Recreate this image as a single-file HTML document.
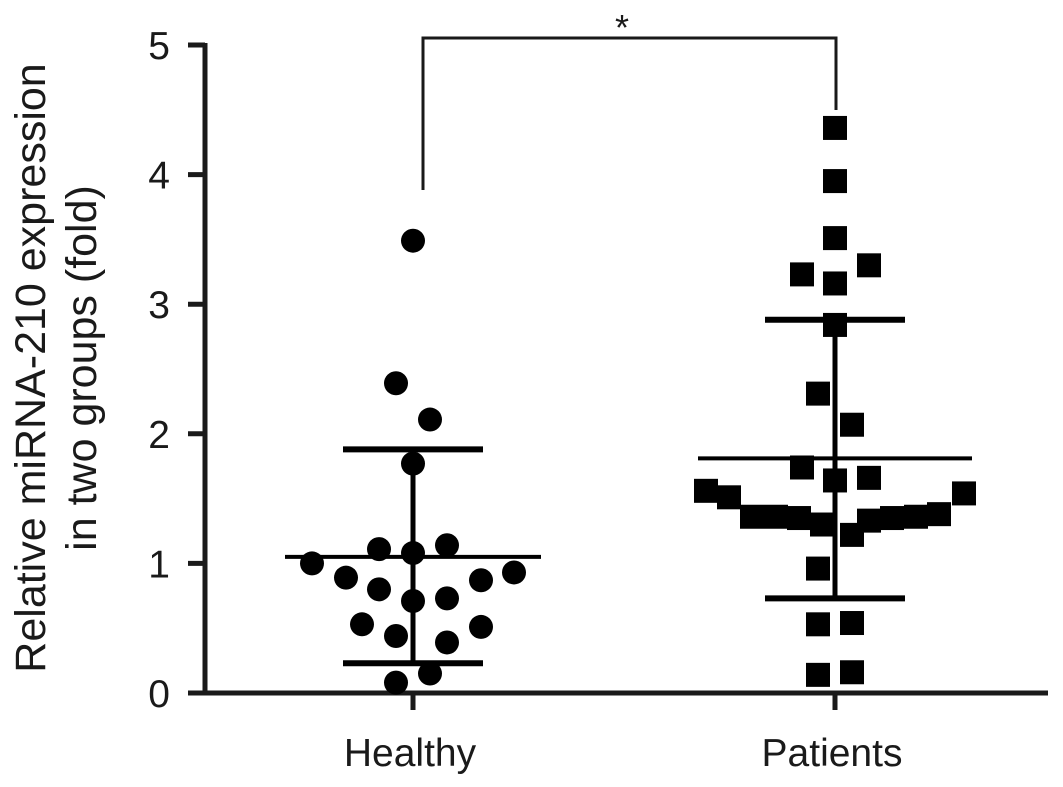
<!DOCTYPE html>
<html><head><meta charset="utf-8"><style>
body{margin:0;background:#fff}
svg{display:block}
text{font-family:"Liberation Sans",Arial,sans-serif;fill:#1a1a1a}
</style></head><body>
<svg id="chart" width="1063" height="787" viewBox="0 0 1063 787" xmlns="http://www.w3.org/2000/svg"></svg>
<script>
const categories = ["Healthy", "Patients"];
const healthyValues = [3.49,2.39,2.11,1.77,1.11,1.08,1.14,1.00,0.89,0.87,0.93,0.80,0.71,0.73,0.53,0.51,0.44,0.39,0.15,0.08];
const healthyJitter = [0,-17,17,0,-34,0,34,-101,-67,68,101,-34,0,34,-51,68,-17,34,17,-17];
const patientValues = [4.36,3.95,3.51,3.23,3.30,3.16,2.84,2.31,2.07,1.74,1.64,1.66,1.56,1.51,1.54,1.36,1.36,1.35,1.30,1.22,1.33,1.35,1.36,1.38,0.96,0.53,0.54,0.14,0.16];
const patientJitter = [0,0,0,-33,34,0,0,-17,17,-33,0,34,-129,-106,129,-83,-59,-36,-13,17,34,57,81,104,-17,-17,17,-17,17];
const means = [1.05, 1.81];
const sdUpper = [1.88, 2.88];
const sdLower = [0.23, 0.73];
const yTicks = [0,1,2,3,4,5];

const svg = document.getElementById('chart');
const NS = 'http://www.w3.org/2000/svg';
const y0 = 693, yTop = 45, yMax = 5;
const yScale = v => y0 - v/yMax*(y0-yTop);
const catX = [413, 835];
const xScale = i => catX[i];
function el(tag, attrs, parent){const e=document.createElementNS(NS,tag);for(const k in attrs)e.setAttribute(k,attrs[k]);(parent||svg).appendChild(e);return e;}

const yAxis = el('line',{x1:205,y1:43,x2:205,y2:695,stroke:'#1a1a1a','stroke-width':5});


const xAxis = el('line',{x1:203,y1:693,x2:1048,y2:693,stroke:'#1a1a1a','stroke-width':5});


yTicks.forEach(t=>{
  const y=yScale(t);
  const tk=el('line',{x1:188,y1:y,x2:205,y2:y,stroke:'#1a1a1a','stroke-width':5});
  
  
  const tx=el('text',{x:170,y:y+14,'text-anchor':'end','font-size':39});
  tx.textContent=t;
  
  
});
categories.forEach((c,i)=>{
  const x=xScale(i);
  const tk=el('line',{x1:x,y1:693,x2:x,y2:710,stroke:'#1a1a1a','stroke-width':5});
  
  
  const tx=el('text',{x:x-3,y:766,'text-anchor':'middle','font-size':39});
  tx.textContent=c;
  
  
});
const yt=el('text',{transform:'translate(45,368) rotate(-90)','text-anchor':'middle','font-size':43});
yt.textContent='Relative miRNA-210 expression';


const yt2=el('text',{transform:'translate(96,368) rotate(-90)','text-anchor':'middle','font-size':43});
yt2.textContent='in two groups (fold)';



healthyValues.forEach((v,i)=>{
  const c=el('circle',{cx:xScale(0)+healthyJitter[i],cy:yScale(v),r:12,fill:'#000'});
  
  
});
patientValues.forEach((v,i)=>{
  const r=el('rect',{x:xScale(1)+patientJitter[i]-12,y:yScale(v)-12,width:24,height:24,fill:'#000'});
  
  
});

const meanHalf=[128,137], capHalf=70;
categories.forEach((c,i)=>{
  const x=xScale(i);
  const m=el('line',{x1:x-meanHalf[i],y1:yScale(means[i]),x2:x+meanHalf[i],y2:yScale(means[i]),stroke:'#000','stroke-width':4});
  
  
  const v=el('line',{x1:x,y1:yScale(sdUpper[i]),x2:x,y2:yScale(sdLower[i]),stroke:'#000','stroke-width':5});
  
  
  [sdUpper[i],sdLower[i]].forEach(s=>{
    const cp=el('line',{x1:x-capHalf,y1:yScale(s),x2:x+capHalf,y2:yScale(s),stroke:'#000','stroke-width':6});
    
    
  });
});

const br=el('polyline',{points:'423,190 423,38 836,38 836,110',fill:'none',stroke:'#1a1a1a','stroke-width':3});


const st=el('text',{x:622,y:40,'text-anchor':'middle','font-size':36});
st.textContent='*';


</script>
</body></html>
